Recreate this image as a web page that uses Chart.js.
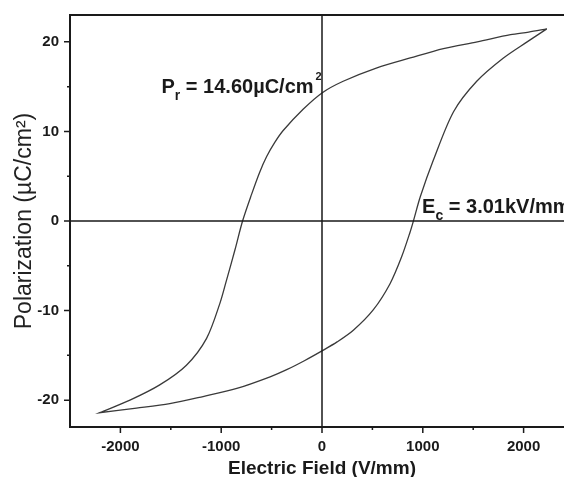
<!DOCTYPE html>
<html>
<head>
<meta charset="utf-8">
<script src="https://cdn.jsdelivr.net/npm/chart.js@4"></script>
<style>
  html, body { margin: 0; padding: 0; background: #fff; overflow: hidden; }
  #wrap { width: 580px; height: 477px; }
</style>
</head>
<body>
<div id="wrap"><canvas id="loop"></canvas></div>
<script>
// hysteresis loop
// upper branch: field going down from +Emax to -Emax
const upperField = [2230, 2050, 1870, 1540, 1205, 875, 545, 210, 0, -185, -385, -470, -549, -620, -698, -788, -864, -947, -1013, -1145, -1345, -1610, -1905, -2205];
const upperPol   = [21.45, 21.1, 20.8, 20.0, 19.25, 18.2, 17.1, 15.6, 14.3, 12.5, 10.1, 8.75, 7.2, 5.4, 3.0, 0, -3.24, -6.6, -9.2, -13.1, -16.1, -18.3, -20.0, -21.4];
// lower branch: field going back up
const lowerField = [-2205, -1840, -1510, -1180, -845, -515, -350, -175, 0, 150, 311, 510, 675, 790, 875, 907, 975, 1105, 1305, 1535, 1800, 2035, 2230];
const lowerPol   = [-21.4, -20.9, -20.4, -19.6, -18.7, -17.4, -16.6, -15.6, -14.5, -13.5, -12.2, -9.9, -7.0, -4.0, -1.2, 0, 2.7, 6.8, 12.2, 15.6, 18.2, 20.0, 21.45];

const xTicks = [-2000, -1000, 0, 1000, 2000];
const yTicks = [-20, -10, 0, 10, 20];
const xMinor = [-1500, -500, 500, 1500];
const yMinor = [-15, -5, 5, 15];

const FONT = '"Liberation Sans", Arial, sans-serif';
const INK = "#1a1a1a";

const loopData = [];
upperField.forEach((e, i) => loopData.push({ x: e, y: upperPol[i] }));
lowerField.forEach((e, i) => loopData.push({ x: e, y: lowerPol[i] }));

// text with sub/superscript, anchored at a data point (baseline, left)
function drawSubLabel(ctx, x, y, main, sub, rest, sup) {
    ctx.save();
    ctx.fillStyle = INK;
    ctx.textBaseline = "alphabetic";
    ctx.textAlign = "left";
    ctx.font = "bold 20px " + FONT;
    ctx.fillText(main, x, y);
    x += ctx.measureText(main).width;
    ctx.font = "bold 14px " + FONT;
    ctx.fillText(sub, x, y + 7);
    x += ctx.measureText(sub).width;
    ctx.font = "bold 20px " + FONT;
    ctx.fillText(rest, x, y);
    x += ctx.measureText(rest).width;
    if (sup) {
        ctx.font = "bold 11px " + FONT;
        ctx.fillText(sup, x + 2, y - 13);
    }
    ctx.restore();
}

const frame = {
    id: "frame",
    afterDatasetsDraw(chart) {
        const { ctx, chartArea: a, scales: { x, y } } = chart;
        ctx.save();
        ctx.strokeStyle = INK;

        // zero lines
        ctx.lineWidth = 1.5;
        ctx.beginPath();
        ctx.moveTo(x.getPixelForValue(0), a.top);
        ctx.lineTo(x.getPixelForValue(0), a.bottom);
        ctx.moveTo(a.left, y.getPixelForValue(0));
        ctx.lineTo(a.right, y.getPixelForValue(0));
        ctx.stroke();

        // box
        ctx.lineWidth = 2;
        ctx.strokeRect(a.left, a.top, a.right - a.left, a.bottom - a.top);

        // ticks, pointing out
        ctx.lineWidth = 1.5;
        ctx.beginPath();
        xTicks.forEach(v => { const px = x.getPixelForValue(v); ctx.moveTo(px, a.bottom); ctx.lineTo(px, a.bottom + 6); });
        xMinor.forEach(v => { const px = x.getPixelForValue(v); ctx.moveTo(px, a.bottom); ctx.lineTo(px, a.bottom + 3); });
        yTicks.forEach(v => { const py = y.getPixelForValue(v); ctx.moveTo(a.left, py); ctx.lineTo(a.left - 6, py); });
        yMinor.forEach(v => { const py = y.getPixelForValue(v); ctx.moveTo(a.left, py); ctx.lineTo(a.left - 3, py); });
        ctx.stroke();
        ctx.restore();

        drawSubLabel(ctx, x.getPixelForValue(-1592), y.getPixelForValue(14.26), "P", "r", " = 14.60\u00B5C/cm", "2");
        drawSubLabel(ctx, x.getPixelForValue(993), y.getPixelForValue(0.86), "E", "c", " = 3.01kV/mm");
    }
};

new Chart(document.getElementById("loop"), {
    type: "scatter",
    data: {
        datasets: [{
            data: loopData,
            showLine: true,
            borderColor: "#3a3a3a",
            borderWidth: 1.3,
            pointRadius: 0,
            tension: 0.3,
            fill: false
        }]
    },
    options: {
        responsive: true,
        maintainAspectRatio: false,
        animation: false,
        layout: { padding: { top: 15, right: 6, left: 0, bottom: 0 } },
        plugins: { legend: { display: false }, tooltip: { enabled: false } },
        scales: {
            x: {
                type: "linear",
                min: -2500,
                max: 2500,
                afterBuildTicks: s => { s.ticks = xTicks.map(v => ({ value: v })); },
                afterFit: s => { s.height = 50; s.paddingLeft = 0; s.paddingRight = 0; },
                grid: { display: false, drawTicks: false },
                border: { display: false },
                ticks: {
                    color: INK,
                    padding: 11,
                    font: { family: FONT, size: 15, weight: "bold" },
                    callback: v => String(v)
                },
                title: {
                    display: true,
                    text: "Electric Field (V/mm)",
                    color: INK,
                    padding: { top: 0, bottom: -3 },
                    font: { family: FONT, size: 19, weight: "bold" }
                }
            },
            y: {
                type: "linear",
                min: -23,
                max: 23,
                afterBuildTicks: s => { s.ticks = yTicks.map(v => ({ value: v })); },
                afterFit: s => { s.width = 70; s.paddingTop = 0; s.paddingBottom = 0; },
                grid: { display: false, drawTicks: false },
                border: { display: false },
                ticks: {
                    color: INK,
                    padding: 11,
                    font: { family: FONT, size: 15, weight: "bold" },
                    callback: v => String(v)
                },
                title: {
                    display: true,
                    text: "Polarization (\u00B5C/cm\u00B2)",
                    color: "#222",
                    padding: { top: 11, bottom: 0 },
                    font: { family: FONT, size: 23 }
                }
            }
        }
    },
    plugins: [frame]
});
</script>
</body>
</html>
